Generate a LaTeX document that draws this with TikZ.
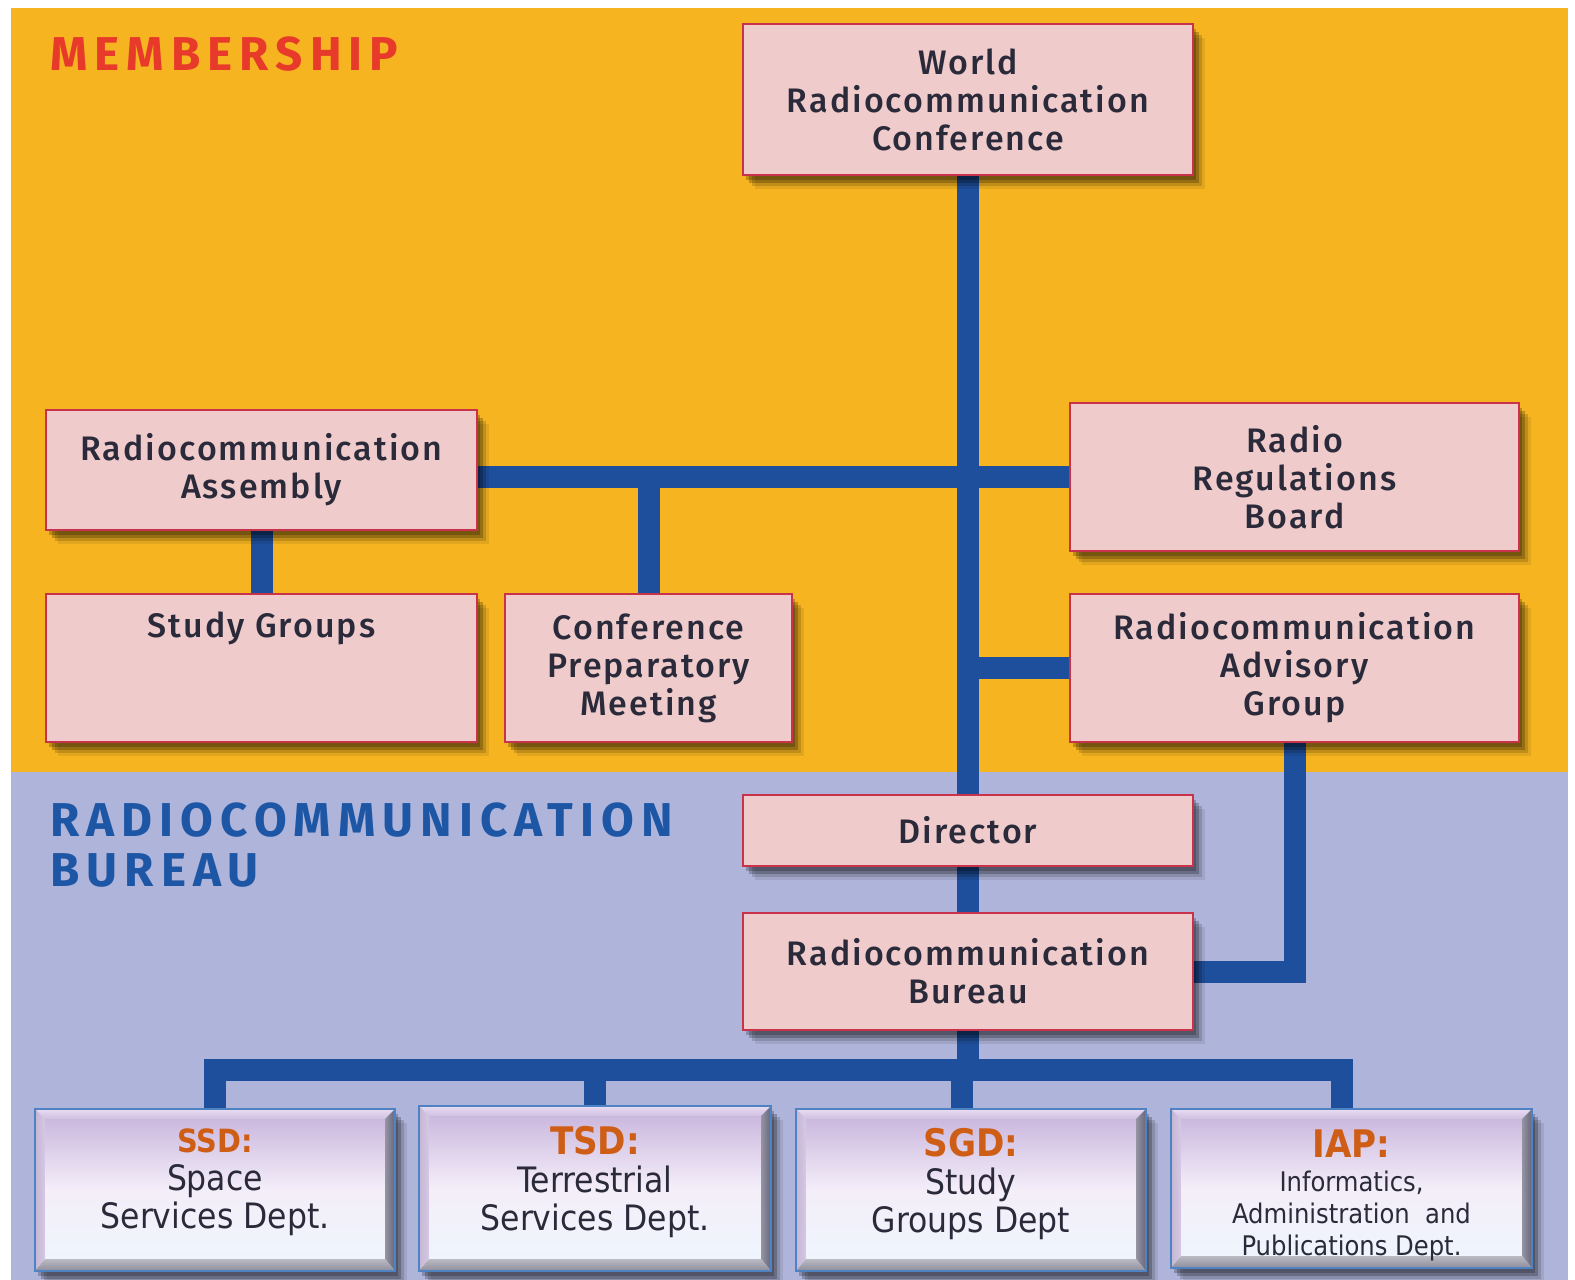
\documentclass[tikz,border=0pt]{standalone}
\usepackage{fontspec}
\setmainfont{Fira Sans}
\newfontfamily\boxfont{Fira Sans Medium}[LetterSpace=6]
\newfontfamily\titlefont{Fira Sans Bold}[LetterSpace=15]
\newfontfamily\deptfont{DejaVu Sans Condensed}
\newfontfamily\deptbold{DejaVu Sans Condensed Bold}
\usetikzlibrary{shadows,calc}
\pgfdeclarelayer{back}\pgfdeclarelayer{mid}\pgfsetlayers{back,mid,main}
\definecolor{orangebg}{HTML}{F6B421}
\definecolor{greybg}{HTML}{AEB4DA}
\definecolor{pinkfill}{HTML}{EFCBCB}
\definecolor{pinkborder}{HTML}{C8334B}
\definecolor{linkblue}{HTML}{1E4F9C}
\definecolor{titlered}{HTML}{E83A2A}
\definecolor{titleblue}{HTML}{1E56A6}
\definecolor{deptorange}{HTML}{CE5E16}
\definecolor{textdark}{HTML}{2A2A3A}
\definecolor{depttop}{HTML}{C6B1DB}
\definecolor{deptmid}{HTML}{F4EEF9}
\definecolor{deptbot}{HTML}{EEF6FD}
\definecolor{deptborder}{HTML}{4F82C2}
\definecolor{bevdark}{HTML}{66657A}
\definecolor{bevbot}{HTML}{8C8C9C}
\definecolor{bevlight}{HTML}{E8DCF2}
\definecolor{bevleft}{HTML}{D6C8E6}
\begin{document}
\begin{tikzpicture}[x=1pt,y=-1pt,
  softshadow/.style={
    general shadow={shadow xshift=3pt,shadow yshift=-5pt,opacity=.22,fill=black},
    general shadow={shadow xshift=6pt,shadow yshift=-8pt,opacity=.22,fill=black},
    general shadow={shadow xshift=9pt,shadow yshift=-11pt,opacity=.15,fill=black},
    general shadow={shadow xshift=12pt,shadow yshift=-14pt,opacity=.08,fill=black}},
  pinkbox/.style={draw=pinkborder,line width=2pt,fill=pinkfill,inner sep=0pt,
    align=center,text=textdark,font={\boxfont\fontsize{34}{38}\selectfont},softshadow},
  deptbox/.style={inner sep=0pt,top color=depttop,bottom color=deptbot,middle color=deptmid,softshadow},
  depttext/.style={align=center,text=textdark,inner sep=0pt,font={\deptfont\fontsize{35}{38}\selectfont}},
  link/.style={draw=linkblue,line width=22pt,line join=miter},
  titletext/.style={anchor=base west,inner sep=0pt,font={\titlefont\fontsize{47.5}{50}\selectfont}}
]
\useasboundingbox (0,0) rectangle (1575,1280);
\begin{pgfonlayer}{back}
\fill[white] (0,0) rectangle (1575,1280);
\fill[orangebg] (11,8) rectangle (1568,772);
\fill[greybg] (11,772) rectangle (1568,1280);
\end{pgfonlayer}

\node[titletext,text=titlered] (tmem) at (50,70) {MEMBERSHIP};
\node[titletext,text=titleblue] (tbur1) at (50,836) {RADIOCOMMUNICATION};
\node[titletext,text=titleblue] (tbur2) at (50,886) {BUREAU};

\node[pinkbox,minimum width=450pt,minimum height=151pt] (wrc) at (968,99.5) {World\\Radiocommunication\\Conference};
\node[pinkbox,minimum width=431pt,minimum height=120pt] (ra) at (261.5,470) {Radiocommunication\\Assembly};
\node[pinkbox,minimum width=431pt,minimum height=148pt] (sg) at (261.5,668) {Study Groups\\\strut\\\strut};
\node[pinkbox,minimum width=287pt,minimum height=148pt] (cpm) at (648.5,668) {Conference\\Preparatory\\Meeting};
\node[pinkbox,minimum width=449pt,minimum height=148pt] (rrb) at (1294.5,477) {Radio\\Regulations\\Board};
\node[pinkbox,minimum width=449pt,minimum height=148pt] (rag) at (1294.5,668) {Radiocommunication\\Advisory\\Group};
\node[pinkbox,minimum width=450pt,minimum height=71pt] (dir) at (968,830.5) {Director};
\node[pinkbox,minimum width=450pt,minimum height=117pt] (rb) at (968,971.5) {Radiocommunication\\Bureau};

\node[deptbox,minimum width=360pt,minimum height=162pt] (ssd) at (215,1190) {};
\node[deptbox,minimum width=352pt,minimum height=165pt] (tsd) at (595,1188.5) {};
\node[deptbox,minimum width=350pt,minimum height=162pt] (sgd) at (971,1190) {};
\node[deptbox,minimum width=361pt,minimum height=159pt] (iap) at (1351.5,1188.5) {};

\foreach \n in {ssd,tsd,sgd,iap}{
  \shade[top color=bevlight,bottom color=depttop!80!white] (\n.north west) -- (\n.north east) -- ($(\n.north east)+(-10,10)$) -- ($(\n.north west)+(10,10)$) -- cycle;
  \shade[left color=bevleft!70!black!30!bevleft,right color=bevleft] (\n.north west) -- ($(\n.north west)+(10,10)$) -- ($(\n.south west)+(10,-12)$) -- (\n.south west) -- cycle;
  \shade[left color=bevdark!70!white,right color=bevdark] (\n.north east) -- ($(\n.north east)+(-10,10)$) -- ($(\n.south east)+(-10,-12)$) -- (\n.south east) -- cycle;
  \shade[top color=bevbot!60!white,bottom color=bevbot] (\n.south west) -- (\n.south east) -- ($(\n.south east)+(-10,-12)$) -- ($(\n.south west)+(10,-12)$) -- cycle;
  \draw[deptborder,line width=1.5pt] (\n.north west) rectangle (\n.south east);
}

\node[depttext] (ssdt) at ($(ssd.center)+(0,-8)$) {{\deptbold\fontsize{32}{38}\selectfont\color{deptorange}SSD:}\\Space\\Services Dept.};
\node[depttext] (tsdt) at ($(tsd.center)+(0,-6)$) {{\deptbold\fontsize{38}{38}\selectfont\color{deptorange}TSD:}\\Terrestrial\\Services Dept.};
\node[depttext] (sgdt) at ($(sgd.center)+(0,-6)$) {{\deptbold\fontsize{38}{38}\selectfont\color{deptorange}SGD:}\\Study\\Groups Dept};
\node[depttext,font={\deptfont\fontsize{27}{32}\selectfont}] (iapt) at ($(iap.center)+(0,7)$) {{\deptbold\fontsize{38}{38}\selectfont\color{deptorange}IAP:}\\[2pt]Informatics,\\Administration~~and\\Publications Dept.};

\coordinate (bus) at (0,1070);
\coordinate (sgddrop) at ($(sgd.north)+(-9,0)$);
\coordinate (iapdrop) at ($(iap.north)+(-10,0)$);
\begin{pgfonlayer}{mid}
\draw[link] (wrc.south) -- (dir.north);
\draw[link] (ra.east |- rrb.west) -- (rrb.west);
\draw[link] (cpm.north) -- (cpm.north |- rrb.west);
\draw[link] (ra.south) -- (sg.north);
\draw[link] (rag.west) -- (rag.west -| wrc.south);
\draw[link] (rag.south) -- (rag.south |- rb.east) -- (rb.east);
\draw[link] (dir.south) -- (rb.north);
\draw[link] (rb.south) -- (rb.south |- bus);
\draw[link] (ssd.north) -- (ssd.north |- bus) -- (iapdrop |- bus) -- (iapdrop);
\draw[link] (tsd.north) -- (tsd.north |- bus);
\draw[link] (sgddrop) -- (sgddrop |- bus);
\end{pgfonlayer}
\end{tikzpicture}
\end{document}
